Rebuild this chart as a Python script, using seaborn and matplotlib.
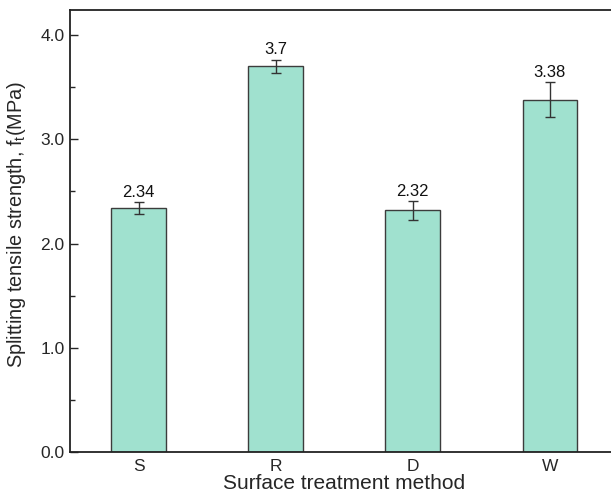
import matplotlib
matplotlib.use("Agg")
import matplotlib.pyplot as plt
import seaborn as sns
import pandas as pd
from matplotlib.ticker import MultipleLocator

# data
methods = ["S", "R", "D", "W"]
strength = [2.34, 3.7, 2.32, 3.38]
errors = [0.06, 0.065, 0.09, 0.17]
labels = ["2.34", "3.7", "2.32", "3.38"]

df = pd.DataFrame({"method": methods, "strength": strength})

sns.set_style("ticks")
plt.rcParams["font.family"] = ["Liberation Sans", "DejaVu Sans"]

fig = plt.figure(figsize=(6.11, 4.98), dpi=100)
ax = fig.add_axes([70 / 611, 46 / 498, 548.5 / 611, 442 / 498])

sns.barplot(data=df, x="method", y="strength", width=0.4, color="#a0e1cf",
            saturation=1, edgecolor="#3c3c3c", linewidth=1.0, errorbar=None, ax=ax)

xpos = range(len(methods))
ax.errorbar(xpos, strength, yerr=errors, fmt="none", ecolor="#333333",
            elinewidth=1.0, capsize=3.5, capthick=1.0)

for x, v, e, lab in zip(xpos, strength, errors, labels):
    ax.annotate(lab, (x, v + e), xytext=(0, 1.5), textcoords="offset points",
                ha="center", va="bottom", fontsize=12, color="#111111")

ax.set_xlim(-0.5, 3.5)
ax.set_ylim(0, 4.24)
ax.yaxis.set_major_locator(MultipleLocator(1.0))
ax.yaxis.set_minor_locator(MultipleLocator(0.5))
ax.yaxis.set_major_formatter(matplotlib.ticker.FormatStrFormatter("%.1f"))
ax.tick_params(axis="y", which="major", direction="in", length=6, width=1, labelsize=12.5, pad=4)
ax.tick_params(axis="y", which="minor", direction="in", length=3.5, width=1)
ax.tick_params(axis="x", length=0, labelsize=12.5, pad=5)

for s in ["top", "right", "left", "bottom"]:
    ax.spines[s].set_visible(True)
    ax.spines[s].set_linewidth(1.3)
    ax.spines[s].set_color("#222222")

ax.set_xlabel("Surface treatment method", fontsize=15, labelpad=0)
ax.set_ylabel("Splitting tensile strength, f$_\\mathregular{t}$(MPa)", fontsize=14.3)
ax.yaxis.set_label_coords(-0.076, 0.515)

fig.savefig("out.png", dpi=100)
